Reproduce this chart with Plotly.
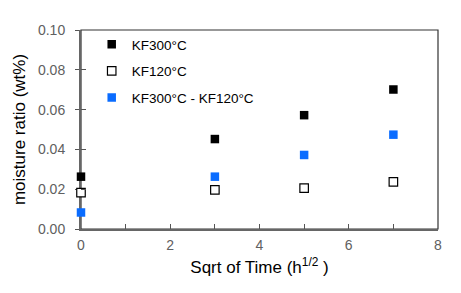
import plotly.graph_objects as go

x_vals = [0, 3, 5, 7]
kf300 = [0.0263, 0.0452, 0.0572, 0.0701]
kf120 = [0.0183, 0.0197, 0.0205, 0.0237]
diff = [0.0083, 0.0263, 0.0372, 0.0474]
names = ["KF300°C", "KF120°C", "KF300°C - KF120°C"]

x_tickvals = [0, 2, 4, 6, 8]
x_ticktext = ["0", "2", "4", "6", "8"]
y_tickvals = [0.0, 0.02, 0.04, 0.06, 0.08, 0.10]
y_ticktext = ["0.00", "0.02", "0.04", "0.06", "0.08", "0.10"]

fig = go.Figure()
fig.add_trace(go.Scatter(x=x_vals, y=kf300, mode="markers", name=names[0], legendgroup="a", cliponaxis=False,
                         marker=dict(symbol="square", size=8.5, color="#000000", line=dict(width=0))))
fig.add_trace(go.Scatter(x=x_vals, y=kf120, mode="markers", name=names[1], legendgroup="b", cliponaxis=False,
                         marker=dict(symbol="square", size=8.5, color="#ffffff", line=dict(width=1.2, color="#000000"))))
fig.add_trace(go.Scatter(x=x_vals, y=diff, mode="markers", name=names[2], legendgroup="c", cliponaxis=False,
                         marker=dict(symbol="square", size=8.5, color="#0a6cff", line=dict(width=0))))
# invisible trace to drive the inner y ticks
fig.add_trace(go.Scatter(x=[None], y=[None], yaxis="y2", showlegend=False, hoverinfo="skip"))

font_family = "Liberation Sans, Arial, sans-serif"

# page body has an 8px margin, so the figure is 8px smaller and offsets are reduced
fig.update_layout(
    width=453, height=285,
    margin=dict(l=73, r=23, t=22, b=64),
    paper_bgcolor="white", plot_bgcolor="white",
    font=dict(family=font_family, color="#000000"),
    showlegend=True,
    legend=dict(x=0.03, y=1.005, xanchor="left", yanchor="top",
                font=dict(size=13.5, color="#000000", family=font_family),
                bgcolor="rgba(0,0,0,0)", tracegroupgap=6, itemwidth=30),
    xaxis=dict(range=[0, 8], tickvals=x_tickvals, ticktext=x_ticktext, automargin=False,
               ticks="inside", ticklen=5, tickcolor="#555555", tickwidth=1,
               minor=dict(dtick=1, tick0=0, ticks="inside", ticklen=5, tickcolor="#555555", tickwidth=1, showgrid=False),
               showline=True, linecolor="#666666", linewidth=2, showgrid=False, zeroline=False,
               layer="below traces",
               tickfont=dict(size=14, color="#606060"), ticklabelstandoff=2,
               title=dict(text="Sqrt of Time (h<sup>1/2</sup> )", font=dict(size=17, color="#000000"), standoff=9)),
    yaxis=dict(range=[0, 0.1], tickvals=y_tickvals, ticktext=y_ticktext, automargin=False,
               ticks="outside", ticklen=4, tickcolor="#555555", tickwidth=1,
               showline=True, linecolor="#666666", linewidth=2, showgrid=False, zeroline=False,
               layer="below traces",
               tickfont=dict(size=14, color="#606060"), ticklabelstandoff=7,
               title=dict(text="moisture ratio (wt%)", font=dict(size=17, color="#000000"), standoff=8)),
    yaxis2=dict(range=[0, 0.1], overlaying="y", side="left", tickvals=y_tickvals, automargin=False,
                showticklabels=False, ticks="inside", ticklen=5, tickcolor="#555555", tickwidth=1,
                showline=False, showgrid=False, zeroline=False),
    shapes=[dict(type="rect", xref="paper", yref="paper", x0=0, y0=0, x1=1, y1=1,
                 line=dict(color="#333333", width=1.2), layer="below")],
)

fig.write_html("out.html")
